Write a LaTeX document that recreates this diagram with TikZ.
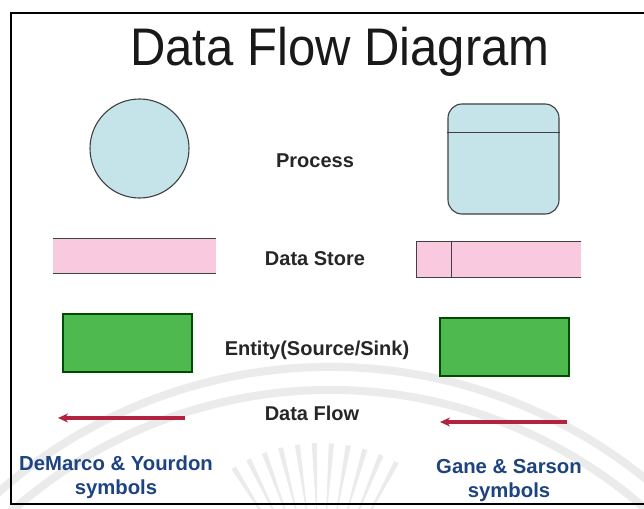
\documentclass[tikz,border=0pt]{standalone}
\usepackage{fontspec}
\setmainfont{Liberation Sans}
\usepackage{tikz}
\usetikzlibrary{arrows.meta}

\definecolor{procblue}{HTML}{C4E4EA}
\definecolor{storepink}{HTML}{F9C9DF}
\definecolor{entgreen}{HTML}{4DB94F}
\definecolor{flowred}{HTML}{B2233F}
\definecolor{capblue}{HTML}{1D4381}

\begin{document}
\begin{tikzpicture}[x=1pt,y=-1pt,
  lbl/.style={font=\fontsize{20}{22}\selectfont\bfseries,text=black!85},
  capt/.style={font=\fontsize{20.3}{24}\selectfont\bfseries,text=capblue,align=center},
  shapeline/.style={draw=black!75,line width=1.1pt},
  flow/.style={flowred,line width=3.2pt,-{Stealth[length=10pt,width=9pt]}}]
  \useasboundingbox (0,0) rectangle (644,508);
  \clip (0,0) rectangle (644,508);
  \fill[white] (0,0) rectangle (644,508);

  % faint logo in the background
  \begin{scope}[gray!16,line width=8pt]
    \draw (330,868) ++(205:501) arc (205:335:501);
    \draw (330,868) ++(207:478) arc (207:333:478);
    \foreach \a in {238,244,...,302}
      \fill ([shift={(320,606)}]\a-0.9:163) -- ([shift={(320,606)}]\a+0.9:163)
            -- ([shift={(320,606)}]\a+0.3:95) -- ([shift={(320,606)}]\a-0.3:95) -- cycle;
  \end{scope}

  % frame
  \draw[line width=1.8pt] (660,13) -- (11,13) -- (11,504) -- (660,504);

  % title
  \node[font=\fontsize{49}{52}\selectfont,text=black!90,yscale=1.08] (title) at (340,52) {Data Flow Diagram};

  % process
  \node[circle,shapeline,fill=procblue,minimum size=99pt,inner sep=0pt] (dmproc) at (139.5,148.5) {};
  \node[rounded corners=14pt,shapeline,fill=procblue,minimum width=111pt,minimum height=110pt] (gsproc) at (503.5,159) {};
  \draw[shapeline] ([yshift=-29pt]gsproc.north west) -- ([yshift=-29pt]gsproc.north east);
  \node[lbl] (proclbl) at (315,161) {Process};

  % data store
  \node[fill=storepink,minimum width=163pt,minimum height=34pt] (dmstore) at (134.5,256) {};
  \draw[shapeline] (dmstore.north west) -- (dmstore.north east)
                   (dmstore.south west) -- (dmstore.south east);
  \node[fill=storepink,minimum width=164pt,minimum height=35pt] (gsstore) at (499,259.5) {};
  \draw[shapeline] (gsstore.north east) -- (gsstore.north west)
                   -- (gsstore.south west) -- (gsstore.south east);
  \draw[shapeline] ([xshift=35pt]gsstore.north west) -- ([xshift=35pt]gsstore.south west);
  \node[lbl] (storelbl) at (315,259) {Data Store};

  % entity
  \node[shapeline,draw=black!70!green,fill=entgreen,minimum width=129pt,minimum height=58pt] (dment) at (127.5,343) {};
  \node[shapeline,draw=black!70!green,fill=entgreen,minimum width=129pt,minimum height=58pt] (gsent) at (504.5,347) {};
  \node[lbl] (entlbl) at (317,350) {Entity(Source/Sink)};

  % data flow
  \coordinate (dmflowA) at (185,418); \coordinate (dmflowB) at (58,418);
  \coordinate (gsflowA) at (567,422); \coordinate (gsflowB) at (440,422);
  \draw[flow] (dmflowA) -- (dmflowB);
  \draw[flow] (gsflowA) -- (gsflowB);
  \node[lbl] (flowlbl) at (312,413) {Data Flow};

  % notations
  \node[capt] (dmcapt) at (116,477) {DeMarco \& Yourdon\\symbols};
  \node[capt] (gscapt) at (509,481) {Gane \& Sarson\\symbols};
\end{tikzpicture}
\end{document}
